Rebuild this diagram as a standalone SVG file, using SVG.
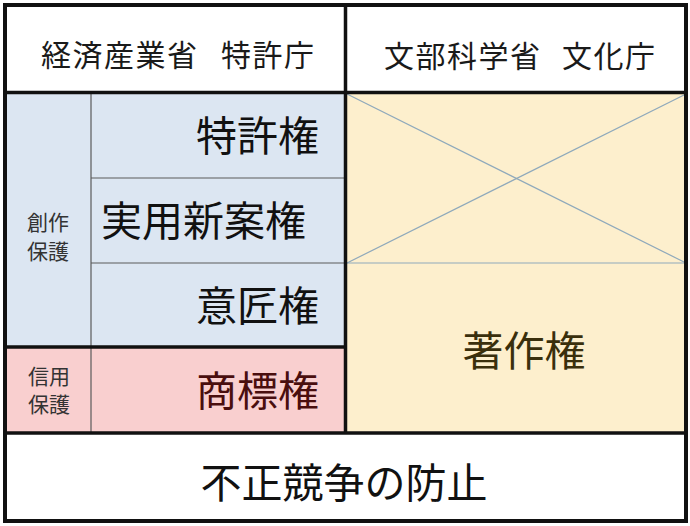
<svg xmlns="http://www.w3.org/2000/svg" width="690" height="526" viewBox="0 0 690 526">
<style>
text{font-family:"Noto Sans CJK JP","Noto Sans CJK SC",sans-serif;dominant-baseline:central}
.hd{font-size:30px;fill:#1a1a1a;letter-spacing:1.5px}
.big{font-size:41px;fill:#111}
.sm{font-size:21px;fill:#333;text-anchor:middle}
.thin{stroke:#5a5a5a;stroke-width:1.2;fill:none}
.thick{stroke:#111;stroke-width:3.5;fill:none}
.cross{stroke:#8fa9bb;stroke-width:1.2;fill:none}
</style>
<rect x="0" y="0" width="690" height="526" fill="#fff"/>
<g id="header-meti">
<rect x="5" y="5" width="340" height="87" fill="#fff"/>
<text class="hd" y="53"><tspan x="41">経済産業省</tspan><tspan x="221">特許庁</tspan></text>
</g>
<g id="header-mext">
<rect x="345" y="5" width="341" height="87" fill="#fff"/>
<text class="hd" y="54"><tspan x="384">文部科学省</tspan><tspan x="562">文化庁</tspan></text>
</g>
<g id="creation">
<rect x="5" y="92" width="86" height="255" fill="#dce6f2"/>
<text class="sm" x="48" y="221">創作</text>
<text class="sm" x="48" y="250">保護</text>
</g>
<g id="patent">
<rect x="91" y="92" width="254" height="86" fill="#dce6f2"/>
<text class="big" x="319" y="133" text-anchor="end">特許権</text>
</g>
<g id="utility">
<rect x="91" y="178" width="254" height="85" fill="#dce6f2"/>
<text class="big" x="101" y="218" text-anchor="start">実用新案権</text>
</g>
<g id="design">
<rect x="91" y="263" width="254" height="84" fill="#dce6f2"/>
<text class="big" x="319" y="303" text-anchor="end">意匠権</text>
</g>
<g id="credit">
<rect x="5" y="347" width="86" height="86" fill="#f9cfcf"/>
<text class="sm" x="49" y="375">信用</text>
<text class="sm" x="49" y="403">保護</text>
</g>
<g id="trademark">
<rect x="91" y="347" width="254" height="86" fill="#f9cfcf"/>
<text class="big" x="319" y="388" text-anchor="end" style="fill:#4a0e0e">商標権</text>
</g>
<g id="copyright-na">
<rect x="345" y="92" width="341" height="171" fill="#fdefcd"/>
</g>
<g id="copyright">
<rect x="345" y="263" width="341" height="170" fill="#fdefcd"/>
<text class="big" x="524" y="348" text-anchor="middle" style="fill:#3a2f0c">著作権</text>
</g>
<g id="unfair">
<rect x="5" y="433" width="681" height="88" fill="#fff"/>
<text class="big" x="344" y="480" text-anchor="middle">不正競争の防止</text>
</g>
<g id="connectors">
<line class="thin" x1="91" y1="92" x2="91" y2="433"/>
<line class="thin" x1="91" y1="178" x2="345" y2="178"/>
<line class="thin" x1="91" y1="263" x2="345" y2="263"/>
<line class="cross" x1="347" y1="263" x2="686" y2="263"/>
<line class="cross" x1="347" y1="94" x2="686" y2="263"/>
<line class="cross" x1="347" y1="263" x2="686" y2="94"/>
<line class="thick" x1="5" y1="92.5" x2="686" y2="92.5"/>
<line class="thick" x1="5" y1="347" x2="345" y2="347"/>
<line class="thick" x1="5" y1="433" x2="686" y2="433"/>
<line class="thick" x1="345.5" y1="5" x2="345.5" y2="433"/>
<rect class="thick" x="5" y="5" width="681" height="516" style="stroke-width:4"/>
</g>
</svg>
